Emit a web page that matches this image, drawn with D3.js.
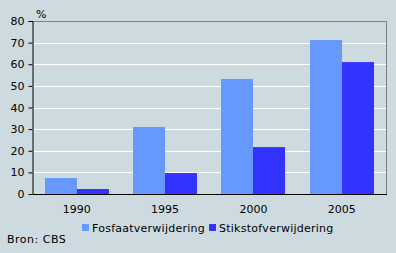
<!DOCTYPE html>
<html>
<head>
<meta charset="utf-8">
<script src="https://cdn.jsdelivr.net/npm/d3@7"></script>
<style>
  body { margin: 0; background: #cddbe0; }
  svg { display: block; font-family: "DejaVu Sans", Verdana, sans-serif; }
  text { fill: #000; font-size: 11px; }
</style>
</head>
<body>
<svg width="396" height="253"></svg>
<script>
const years = ['1990', '1995', '2000', '2005'];
const seriesNames = ['Fosfaatverwijdering', 'Stikstofverwijdering'];
const fosfaat = [7.4, 31.0, 53.2, 71.2];
const stikstof = [2.3, 9.7, 21.7, 61.0];
const yTicks = [0, 10, 20, 30, 40, 50, 60, 70, 80];
const colors = ['#6699ff', '#3333ff'];

const svg = d3.select('svg');
const mLeft = 32.5, mRight = 386, mTop = 21, mBottom = 194;

const x = d3.scaleBand().domain(years).range([mLeft, mRight]);
const y = d3.scaleLinear().domain([0, 80]).range([mBottom, mTop]);

const table = years.map((yr, i) => ({year: yr, values: [fosfaat[i], stikstof[i]]}));

// background
svg.append('rect').attr('width', 396).attr('height', 253).attr('fill', '#cddbe0');

// gridlines
svg.append('g').selectAll('line')
    .data(yTicks.filter(d => d > 0 && d < 80))
    .enter().append('line')
    .attr('x1', mLeft).attr('x2', mRight)
    .attr('y1', d => Math.round(y(d)) + 0.5).attr('y2', d => Math.round(y(d)) + 0.5)
    .attr('stroke', '#fff').attr('stroke-width', 1);

// top/right frame
svg.append('path')
    .attr('d', `M${mLeft},${mTop + 0.5}H${mRight + 0.5}V${mBottom}`)
    .attr('fill', 'none').attr('stroke', '#808080');

// bars
const bw = 32;
svg.append('g').selectAll('g')
    .data(table)
    .enter().append('g')
    .attr('transform', d => `translate(${Math.round(x(d.year) + x.bandwidth() / 2 - bw)},0)`)
    .selectAll('rect')
    .data(d => d.values)
    .enter().append('rect')
    .attr('x', (d, i) => i * bw)
    .attr('width', bw)
    .attr('y', d => y(d))
    .attr('height', d => y(0) - y(d))
    .attr('fill', (d, i) => colors[i]);

// y axis
const yAxis = svg.append('g')
    .attr('transform', `translate(${mLeft},0)`)
    .call(d3.axisLeft(y).tickValues(yTicks).tickSize(4).tickPadding(4));
yAxis.select('.domain').attr('stroke', '#000').attr('d', `M-4,${mTop + 0.5}H0.5V${mBottom}`);
yAxis.selectAll('.tick line').attr('stroke', '#000');
yAxis.selectAll('.tick text').style('font-size', '11px').attr('fill', '#000')
    .attr('font-family', '"DejaVu Sans", Verdana, sans-serif');

// x axis line
svg.append('line')
    .attr('x1', mLeft).attr('x2', mRight + 1)
    .attr('y1', mBottom + 0.5).attr('y2', mBottom + 0.5)
    .attr('stroke', '#000');

// x labels
svg.append('g').selectAll('text')
    .data(years)
    .enter().append('text')
    .attr('x', d => x(d) + x.bandwidth() / 2)
    .attr('y', 213)
    .attr('text-anchor', 'middle')
    .text(d => d);

// unit
svg.append('text').attr('x', 36).attr('y', 18).text('%');

// legend
const legendX = [82, 209];
const legend = svg.append('g').selectAll('g')
    .data(seriesNames)
    .enter().append('g')
    .attr('transform', (d, i) => `translate(${legendX[i]},224)`);
legend.append('rect').attr('width', 7).attr('height', 7).attr('fill', (d, i) => colors[i]);
legend.append('text').attr('x', 10).attr('y', 8)
    .attr('letter-spacing', '0.25px').text(d => d);

// source
svg.append('text').attr('x', 7).attr('y', 243)
    .attr('letter-spacing', '0.5px').text('Bron: CBS');
</script>
</body>
</html>
